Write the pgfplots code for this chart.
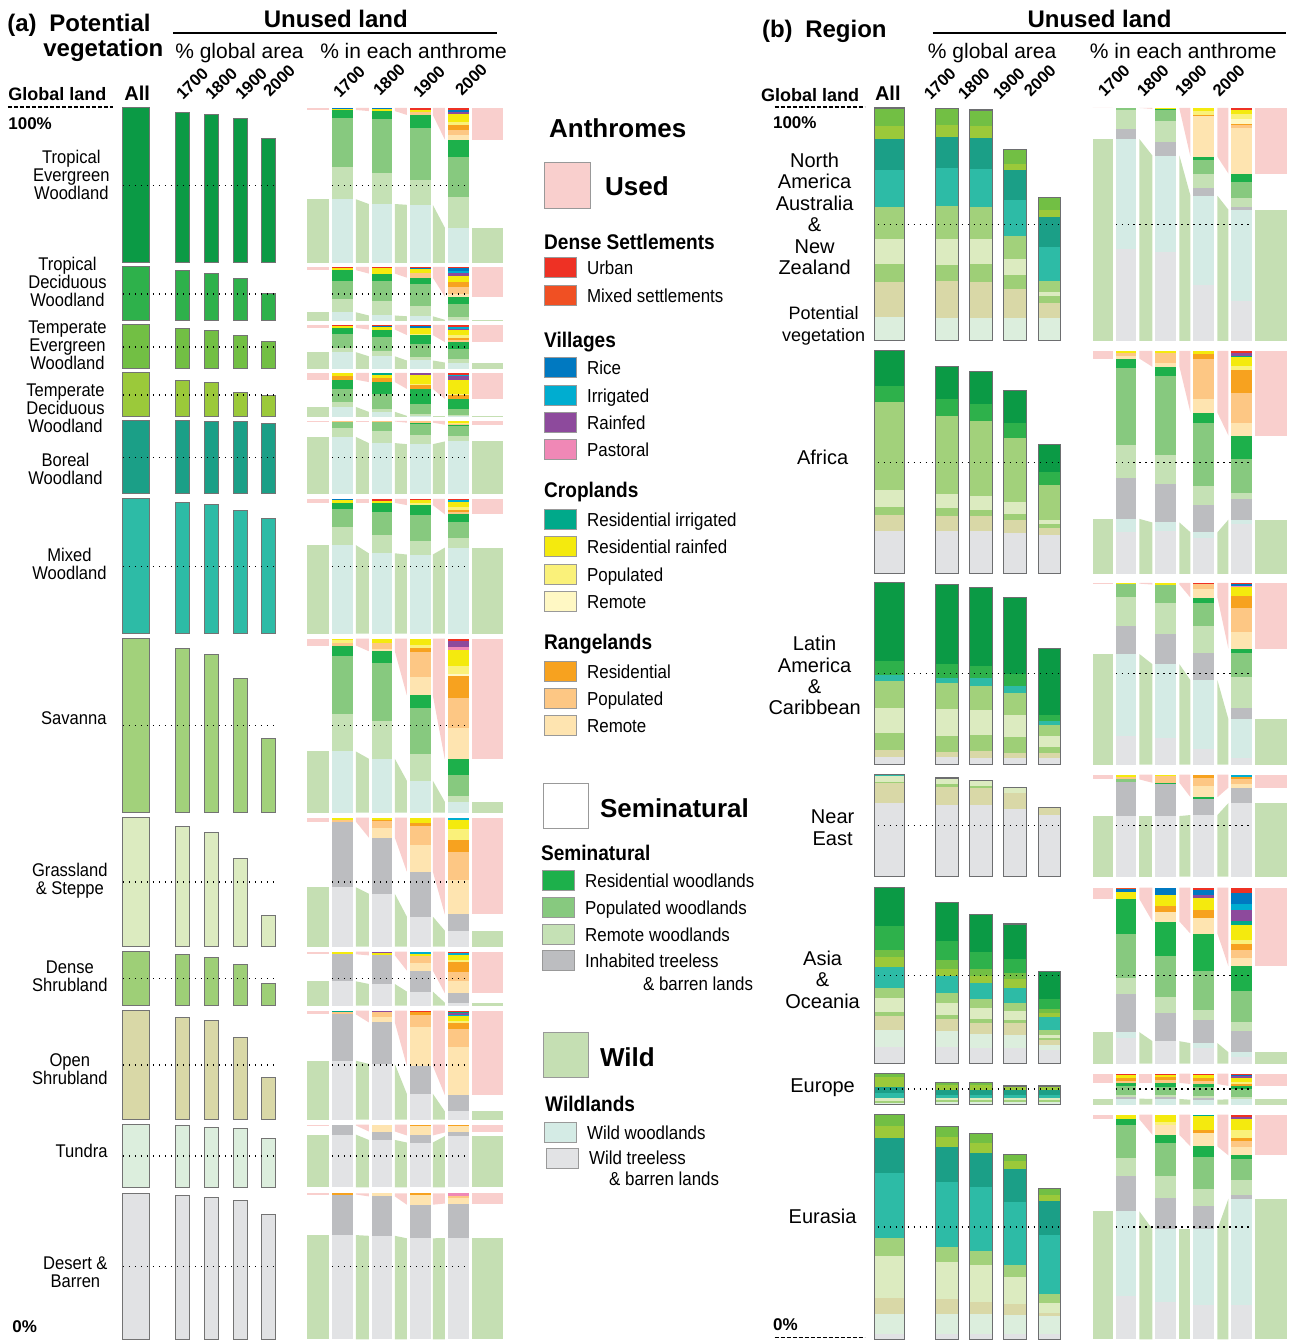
\documentclass[border=0pt]{standalone}
\usepackage{fontspec}
\setmainfont{Liberation Sans}
\newfontfamily\nf[FakeStretch=0.9]{Liberation Sans}
\usepackage{pgfplots}
\pgfplotsset{compat=1.18}
% potential vegetation
\definecolor{cTE}{HTML}{0B9A45}\definecolor{cTD}{HTML}{2EB14B}
\definecolor{cME}{HTML}{72BF44}\definecolor{cMD}{HTML}{9BC93A}
\definecolor{cBo}{HTML}{1B9F87}\definecolor{cMx}{HTML}{2DBBA6}
\definecolor{cSv}{HTML}{A2D17B}\definecolor{cGr}{HTML}{DCEBC0}
\definecolor{cDS}{HTML}{9ECF77}\definecolor{cOS}{HTML}{D9D8A7}
\definecolor{cTu}{HTML}{DCEEDD}\definecolor{cDe}{HTML}{E1E2E4}
% anthromes
\definecolor{cUrban}{HTML}{EE3124}\definecolor{cMixS}{HTML}{F05023}
\definecolor{cRice}{HTML}{0079C1}\definecolor{cIrrV}{HTML}{00ADD0}
\definecolor{cRainV}{HTML}{8D4A9C}\definecolor{cPastV}{HTML}{F088B6}
\definecolor{cResIrr}{HTML}{00A98A}\definecolor{cResRain}{HTML}{F4EA0E}
\definecolor{cPopC}{HTML}{FAF17A}\definecolor{cRemC}{HTML}{FFF8C4}
\definecolor{cResR}{HTML}{F7A21F}\definecolor{cPopR}{HTML}{FDC784}
\definecolor{cRemR}{HTML}{FEE4B0}\definecolor{cResW}{HTML}{1DB04B}
\definecolor{cPopW}{HTML}{87C97F}\definecolor{cRemW}{HTML}{C5E1B5}
\definecolor{cInhab}{HTML}{BCBDC0}\definecolor{cWildW}{HTML}{D4EBE5}
\definecolor{cWildT}{HTML}{E2E3E5}\definecolor{cUsed}{HTML}{F9CFCD}
\definecolor{cWild}{HTML}{C5DFB3}\definecolor{cOut}{HTML}{6D6E70}
% drawing helpers (all through \addplot)
\newcommand\Pgn[9]{\edef\pgtmp{\noexpand\addplot[fill=#1,draw=none,forget plot] coordinates {(#2,#3) (#4,#5) (#6,#7) (#8,#9)} -- cycle;}\pgtmp}
\newcommand\Rct[5]{\Pgn{#5}{#1}{#3}{#2}{#3}{#2}{#4}{#1}{#4}}
\newcommand\frect[5]{\edef\pgtmp{\noexpand\addplot[fill=#5,draw=black!55,line width=0.5pt,forget plot] coordinates {(#1,#3) (#2,#3) (#2,#4) (#1,#4)} -- cycle;}\pgtmp}
\newcommand\orect[4]{\edef\pgtmp{\noexpand\addplot[draw=cOut,fill=none,line width=0.6pt,forget plot] coordinates {(#1,#3) (#2,#3) (#2,#4) (#1,#4)} -- cycle;}\pgtmp}
\newcommand\lrect[5]{\edef\pgtmp{\noexpand\addplot[fill=#5,draw=black!40,line width=0.4pt,forget plot] coordinates {(#1,#3) (#2,#3) (#2,#4) (#1,#4)} -- cycle;}\pgtmp}
\newcommand\dotline[3]{\pgfmathsetmacro\dly{#3}\edef\pgtmp{\noexpand\addplot[forget plot,draw=black,line width=0.7pt,dash pattern=on 0.6pt off 2.4pt] coordinates {(#1,\dly) (#2,\dly)};}\pgtmp}
% stacked bar, top-down, heights in % of row
\newcommand\sbar[5]{\pgfmathsetmacro\sbH{(#4)-(#3)}\xdef\sbY{#3}%
  \foreach \h/\c in {#5}{\pgfmathsetmacro\sbN{\sbY+\h/100*\sbH}\Rct{#1}{#2}{\sbY}{\sbN}{\c}\xdef\sbY{\sbN}}}
% stacked bar, bottom-up, heights in % of row, outlined
\newcommand\ubar[5]{\pgfmathsetmacro\sbH{(#4)-(#3)}\xdef\sbY{#4}%
  \foreach \h/\c in {#5}{\pgfmathsetmacro\sbN{\sbY-\h/100*\sbH}\Rct{#1}{#2}{\sbN}{\sbY}{\c}\xdef\sbY{\sbN}}%
  \orect{#1}{#2}{\sbY}{#4}}
\def\getfour#1,#2,#3,#4\relax{\def\fA{#1}\def\fB{#2}\def\fC{#3}\def\fD{#4}}
% used (top) and wild (bottom) bands and connectors
\newcommand\bands[4]{\pgfmathsetmacro\bdH{(#2)-(#1)}%
  \getfour#3\relax
  \pgfmathsetmacro\bdUa{#1+\fA/100*\bdH}\pgfmathsetmacro\bdUb{#1+\fB/100*\bdH}%
  \pgfmathsetmacro\bdUc{#1+\fC/100*\bdH}\pgfmathsetmacro\bdUd{#1+\fD/100*\bdH}%
  \getfour#4\relax
  \pgfmathsetmacro\bdWa{#2-\fA/100*\bdH}\pgfmathsetmacro\bdWb{#2-\fB/100*\bdH}%
  \pgfmathsetmacro\bdWc{#2-\fC/100*\bdH}\pgfmathsetmacro\bdWd{#2-\fD/100*\bdH}%
  \Rct{\qLl}{\qLr}{#1}{\bdUa}{cUsed}\Rct{\qLl}{\qLr}{\bdWa}{#2}{cWild}%
  \Pgn{cUsed}{\qPl}{#1}{\qPr}{#1}{\qPr}{\bdUb}{\qPl}{\bdUa}%
  \Pgn{cWild}{\qPl}{\bdWa}{\qPr}{\bdWb}{\qPr}{#2}{\qPl}{#2}%
  \Pgn{cUsed}{\qQl}{#1}{\qQr}{#1}{\qQr}{\bdUc}{\qQl}{\bdUb}%
  \Pgn{cWild}{\qQl}{\bdWb}{\qQr}{\bdWc}{\qQr}{#2}{\qQl}{#2}%
  \Pgn{cUsed}{\qSl}{#1}{\qSr}{#1}{\qSr}{\bdUd}{\qSl}{\bdUc}%
  \Pgn{cWild}{\qSl}{\bdWc}{\qSr}{\bdWd}{\qSr}{#2}{\qSl}{#2}%
  \Rct{\qRl}{\qRr}{#1}{\bdUd}{cUsed}\Rct{\qRl}{\qRr}{\bdWd}{#2}{cWild}}
% anthrome bars of one row: ytop ybot L1700 L1800 L1900 L2000 {used%} {wild%}
\newcommand\anth[8]{\bands{#1}{#2}{#7}{#8}%
  \sbar{\qAl}{\qAr}{#1}{#2}{#3}\sbar{\qBl}{\qBr}{#1}{#2}{#4}%
  \sbar{\qCl}{\qCr}{#1}{#2}{#5}\sbar{\qDl}{\qDr}{#1}{#2}{#6}%
  \dotline{\qAl}{\qDr}{(#1+#2)/2}}
% panel (a) biome row: ytop ybot colour, unused % 1700..2000
\newcommand\arow[7]{\frect{123}{150}{#1}{#2}{#3}\pgfmathsetmacro\arH{(#2)-(#1)}%
  \pgfmathsetmacro\arT{#2-#4/100*\arH}\frect{176}{190}{\arT}{#2}{#3}%
  \pgfmathsetmacro\arT{#2-#5/100*\arH}\frect{205}{219}{\arT}{#2}{#3}%
  \pgfmathsetmacro\arT{#2-#6/100*\arH}\frect{234}{248}{\arT}{#2}{#3}%
  \pgfmathsetmacro\arT{#2-#7/100*\arH}\frect{262}{276}{\arT}{#2}{#3}%
  \dotline{123}{276}{(#1+#2)/2}}
% panel (b) region row
\newcommand\brow[7]{\ubar{875}{905}{#1}{#2}{#3}\ubar{936}{959}{#1}{#2}{#4}%
  \ubar{970}{993}{#1}{#2}{#5}\ubar{1004}{1027}{#1}{#2}{#6}\ubar{1039}{1061}{#1}{#2}{#7}%
  \dotline{878}{1062}{(#1+#2)/2}}
\newcommand\litem[4][587]{\pgfmathsetmacro\lya{#2-10}\pgfmathsetmacro\lyb{#2+10}\pgfmathsetmacro\lyc{#2+6.5}%
  \pgfmathsetmacro\lxa{#1-42}\pgfmathsetmacro\lxb{#1-10}%
  \lrect{\lxa}{\lxb}{\lya}{\lyb}{#3}%
  \edef\pgtmp{\noexpand\node[litem] at (axis cs:#1,\lyc) {\unexpanded{#4}};}\pgtmp}
\def\setA{\def\qLl{307}\def\qLr{329}\def\qAl{332}\def\qAr{353}\def\qPl{356}\def\qPr{369}\def\qBl{372}\def\qBr{392}\def\qQl{395}\def\qQr{407}\def\qCl{410}\def\qCr{431}\def\qSl{433}\def\qSr{445}\def\qDl{448}\def\qDr{469}\def\qRl{472}\def\qRr{503}}
\def\setB{\def\qLl{1093}\def\qLr{1113}\def\qAl{1116}\def\qAr{1137}\def\qPl{1140}\def\qPr{1153}\def\qBl{1156}\def\qBr{1177}\def\qQl{1180}\def\qQr{1191}\def\qCl{1194}\def\qCr{1215}\def\qSl{1218}\def\qSr{1229}\def\qDl{1232}\def\qDr{1253}\def\qRl{1256}\def\qRr{1288}}
\tikzset{
  blab/.style={font=\nf\fontsize{9.2}{9}\selectfont, align=center, anchor=east, inner sep=0pt},
  rlab/.style={font=\fontsize{10}{10.7}\selectfont, align=center, inner sep=0pt},
  plab/.style={font=\fontsize{9}{11}\selectfont, align=center, inner sep=0pt},
  hbig/.style={font=\bfseries\fontsize{12}{12}\selectfont, anchor=base west, inner sep=0pt},
  hbigc/.style={font=\bfseries\fontsize{12}{12}\selectfont, anchor=base, inner sep=0pt},
  hsub/.style={font=\fontsize{10.5}{10.5}\selectfont, anchor=base west, inner sep=0pt},
  hsm/.style={font=\bfseries\fontsize{9}{9}\selectfont, anchor=base west, inner sep=0pt},
  hpc/.style={font=\bfseries\fontsize{8.5}{8.5}\selectfont, anchor=base west, inner sep=0pt},
  yr/.style={font=\bfseries\fontsize{8.3}{8.3}\selectfont, rotate=45, anchor=base west, inner sep=0pt},
  lbig/.style={font=\bfseries\fontsize{13}{13}\selectfont, anchor=base west, inner sep=0pt},
  lhead/.style={font=\nf\bfseries\fontsize{10.6}{10.6}\selectfont, anchor=base west, inner sep=0pt},
  litem/.style={font=\nf\fontsize{9.4}{9.4}\selectfont, anchor=base west, inner sep=0pt},
}
\begin{document}
\begin{tikzpicture}
\begin{axis}[scale only axis, width=646.5pt, height=670pt, xmin=0, xmax=1293, ymin=0, ymax=1340,
  y dir=reverse, hide axis, clip=false]
\addplot[draw=none, forget plot] coordinates {(0,0) (1293,1340)};
% ================= PANEL (a) =================
\arow{108}{263}{cTE}{96.8}{95.5}{92.9}{80}
\arow{267}{321}{cTD}{92.6}{87}{77.8}{50}
\arow{325}{369}{cME}{90.9}{86.4}{75}{61.4}
\arow{373}{417}{cMD}{81.8}{77.3}{54.5}{47.7}
\arow{421}{494}{cBo}{100}{98.6}{98.6}{95.9}
\arow{499}{634}{cMx}{97}{95.5}{91}{85.1}
\arow{639}{813}{cSv}{94.3}{90.8}{77}{42.5}
\arow{818}{947}{cGr}{93}{88.4}{68.2}{24}
\arow{952}{1006}{cDS}{94.4}{88.9}{75.9}{40.7}
\arow{1011}{1120}{cOS}{93.6}{90.8}{75.2}{38.5}
\arow{1125}{1188}{cTu}{98.4}{95.2}{93.7}{77.8}
\arow{1194}{1340}{cDe}{98.6}{97.3}{95.2}{85.6}
\setA
\anth{108}{263}
{0.6/cRice, 0.7/cResRain, 5/cResW, 32/cPopW, 20.6/cRemW, 41.1/cWildW}
{0.7/cRice, 1.3/cResRain, 5/cResW, 35/cPopW, 20/cRemW, 38/cWildW}
{1/cUrban, 1.5/cResRain, 2/cPopR, 8.4/cResW, 33.5/cPopW, 16.1/cRemW, 37.5/cWildW}
{1/cUrban, 1.5/cRice, 1.3/cRainV, 5/cResRain, 2/cPopC, 3.2/cResR, 3.6/cPopR, 2.8/cRemR, 11/cResW, 25.8/cPopW, 20/cRemW, 22.8/cWildW}
{1.3,2,4.5,20.4}{41.1,38,37.5,22.8}
\anth{267}{321}
{1.5/cUrban, 4.5/cResRain, 21/cResW, 33/cPopW, 24/cRemW, 16/cWildW}
{2.4/cUrban, 10/cResRain, 13/cResW, 38/cPopW, 26.6/cRemW, 10/cWildW}
{2/cUrban, 1.5/cRice, 8.5/cResRain, 8/cPopR, 12.5/cResW, 40/cPopW, 19/cRemW, 8.5/cWildW}
{2/cUrban, 6/cRice, 3.7/cIrrV, 5.5/cRainV, 10/cResRain, 9.7/cResR, 13.3/cPopR, 4.8/cRemR, 14/cResW, 24/cPopW, 5/cRemW, 2/cWildW}
{6,12.4,20,55}{16,10,8.5,2}
\anth{325}{369}
{2.3/cUrban, 4.7/cResRain, 14/cResW, 32/cPopW, 9/cRemW, 38/cWildW}
{2.3/cUrban, 2.3/cRice, 6/cResRain, 17/cResW, 32/cPopW, 11.9/cRemW, 28.5/cWildW}
{2.3/cUrban, 4.6/cRice, 14/cResRain, 2.3/cPopC, 21/cResW, 27.8/cPopW, 9/cRemW, 19/cWildW}
{4/cUrban, 4.6/cIrrV, 3/cRainV, 10.7/cResRain, 7.7/cPopC, 4.6/cResR, 4.6/cPopR, 15.4/cResW, 24/cPopW, 7/cRemW, 14.4/cWildW}
{7,10.6,23.2,39.2}{38,28.5,19,14.4}
\anth{373}{417}
{8/cResRain, 7.5/cResR, 21/cResW, 30/cPopW, 11/cRemW, 22.5/cWildW}
{4.5/cResIrr, 7.5/cResRain, 9/cResR, 26/cResW, 34.5/cPopW, 7.2/cRemW, 11.3/cWildW}
{4.5/cRainV, 20/cResRain, 4/cPopC, 8/cResR, 34.5/cResW, 22/cPopW, 4.7/cRemW, 2.3/cWildW}
{3.8/cUrban, 3.8/cIrrV, 8/cRainV, 31.5/cResRain, 3.8/cPopC, 8.3/cResR, 22.5/cResW, 13.5/cPopW, 2.5/cRemW, 2.3/cWildW}
{15.5,21,36.5,59.2}{22.5,11.3,2.3,2.3}
\anth{421}{494}
{1/cPopR, 9/cPopW, 12/cRemW, 78/cWildW}
{1/cPopR, 13.5/cPopW, 16/cRemW, 69.5/cWildW}
{2.5/cPopR, 1.5/cResW, 16/cPopW, 12/cRemW, 68/cWildW}
{0.8/cUrban, 2/cResRain, 1.5/cPopC, 1/cPopR, 1.5/cResW, 13.5/cPopW, 8/cRemW, 71.7/cWildW}
{1,1,2.5,5.3}{78,69.5,68,71.7}
\anth{499}{634}
{0.8/cRice, 2.2/cResRain, 4.5/cResW, 13.4/cPopW, 13.4/cRemW, 65.7/cWildW}
{1.5/cUrban, 1.5/cResRain, 7/cResW, 17/cPopW, 13.4/cRemW, 59.6/cWildW}
{1/cUrban, 2.2/cResRain, 1.5/cPopC, 7.5/cResW, 19.4/cPopW, 9.7/cRemW, 58.7/cWildW}
{1/cUrban, 1.3/cIrrV, 4/cResRain, 2.2/cPopC, 1.5/cResR, 1.5/cPopR, 6/cResW, 11.2/cPopW, 7.5/cRemW, 63.8/cWildW}
{3,3,4.7,11.5}{65.7,59.6,58.7,63.8}
\anth{639}{813}
{1/cResRain, 1.2/cPopC, 1.7/cPopR, 6.3/cResW, 33.3/cPopW, 21.3/cRemW, 35.2/cWildW}
{2.7/cResRain, 3.4/cPopR, 1.1/cRemR, 6.9/cResW, 33.3/cPopW, 21.6/cRemW, 31/cWildW}
{3.8/cResRain, 1.7/cPopC, 2.3/cResR, 14.4/cPopR, 10.3/cRemR, 7.5/cResW, 26.3/cPopW, 15.3/cRemW, 18.4/cWildW}
{1.5/cUrban, 3.4/cRainV, 1.3/cPastV, 9.2/cResRain, 4.6/cPopC, 1.7/cRemC, 12.6/cResR, 17.2/cPopR, 17.8/cRemR, 9.2/cResW, 12/cPopW, 3.2/cRemW, 6.3/cWildW}
{3.9,7.2,32.5,69.3}{35.2,31,18.4,6.3}
\anth{818}{947}
{1.5/cResRain, 1.5/cPopR, 51/cInhab, 46/cWildT}
{1.5/cResRain, 0.8/cResR, 5.4/cPopR, 7.8/cRemR, 43.5/cInhab, 41/cWildT}
{3.9/cResRain, 2.3/cResR, 14.7/cPopR, 21/cRemR, 34.8/cInhab, 23.3/cWildT}
{1.5/cIrrV, 7/cResRain, 8.5/cPopC, 10/cResR, 21/cPopR, 27/cRemR, 12.6/cInhab, 12.4/cWildT}
{3,15.5,41.9,75}{46,41,23.3,12.4}
\anth{952}{1006}
{5/cResRain, 50/cInhab, 45/cWildT}
{2/cRainV, 5/cResRain, 53/cInhab, 40/cWildT}
{3.7/cIrrV, 3.7/cResRain, 13/cPopR, 14.8/cRemR, 38.8/cInhab, 26/cWildT}
{2/cUrban, 3.7/cIrrV, 9/cResRain, 5.5/cPopC, 16.7/cResR, 18.5/cPopR, 21.6/cRemR, 17.5/cInhab, 5.5/cWildT}
{5,7,35.2,77}{45,40,26,5.5}
\anth{1011}{1120}
{1/cResIrr, 2.5/cPopR, 42.5/cInhab, 54/cWildT}
{1.5/cRainV, 4.7/cPopR, 4.7/cRemR, 38.1/cInhab, 51/cWildT}
{1.5/cUrban, 2.8/cResR, 10.4/cPopR, 36/cRemR, 25.6/cInhab, 23.7/cWildT}
{1/cUrban, 1.5/cResIrr, 1.5/cRainV, 1.4/cIrrV, 3.8/cResRain, 1.9/cPopC, 5.7/cResR, 17/cPopR, 43.6/cRemR, 15/cInhab, 7.6/cWildT}
{3.5,10.9,50.7,77.4}{54,51,23.7,7.6}
\anth{1125}{1188}
{1.5/cRemC, 14.5/cInhab, 84/cWildT}
{1.5/cResR, 9.6/cRemR, 13.4/cInhab, 75.5/cWildT}
{3/cResR, 14.4/cRemR, 11.2/cInhab, 71.4/cWildT}
{1.5/cResIrr, 1.5/cResR, 9.6/cRemR, 5.9/cInhab, 81.5/cWildT}
{1.5,11.1,17.4,12.6}{84,75.5,71.4,81.5}
\anth{1194}{1340}
{0.7/cResR, 27.8/cInhab, 71.5/cWildT}
{2/cRemR, 27/cInhab, 71/cWildT}
{0.7/cResR, 7/cRemR, 23/cInhab, 69.3/cWildT}
{1.4/cPastV, 2/cPopR, 3.5/cRemR, 23.7/cInhab, 69.4/cWildT}
{0.7,2,7.7,6.9}{71.5,71,69.3,69.4}
% ================= PANEL (b) =================
\brow{108}{341}
{10.2/cTu, 15/cOS, 7.7/cDS, 10.7/cGr, 13.7/cSv, 15.9/cMx, 13.3/cBo, 5.6/cMD, 7.9/cME}
{9.7/cTu, 15.9/cOS, 6.9/cDS, 11.2/cGr, 14.2/cSv, 16.3/cMx, 13.3/cBo, 5.2/cMD, 7.2/cME}
{9.7/cTu, 15.5/cOS, 7.7/cDS, 10.7/cGr, 13.7/cSv, 16.3/cMx, 13.3/cBo, 5.2/cMD, 7/cME}
{9.7/cTu, 12.4/cOS, 6/cDS, 6.9/cGr, 9.9/cSv, 15.5/cMx, 12.9/cBo, 2.6/cMD, 6.3/cME}
{9.7/cTu, 6.4/cOS, 3/cDS, 1.7/cGr, 4.7/cSv, 14.6/cMx, 12.9/cBo, 3/cMD, 5.4/cME}
\brow{351}{574}
{19/cDe, 7.2/cOS, 3.6/cDS, 7.6/cGr, 39.5/cSv, 7.2/cTD, 15.9/cTE}
{19/cDe, 6.7/cOS, 3.6/cDS, 6.7/cGr, 35/cSv, 7.2/cTD, 14.7/cTE}
{19/cDe, 6.7/cOS, 3.1/cDS, 6.3/cGr, 33.6/cSv, 7.6/cTD, 14.3/cTE}
{18.5/cDe, 5.4/cOS, 2.7/cDS, 5.4/cGr, 29.1/cSv, 6.7/cTD, 14.3/cTE}
{17.6/cDe, 3.1/cOS, 1.8/cDS, 1.8/cGr, 15.7/cSv, 5.8/cTD, 12.1/cTE}
\brow{583}{765}
{4/cDe, 3.8/cOS, 9.4/cDS, 14.2/cGr, 14.5/cSv, 3.2/cMx, 7.8/cTD, 43.1/cTE}
{4/cDe, 3.2/cOS, 8.8/cDS, 14.7/cGr, 14.2/cSv, 2.7/cMx, 8/cTD, 43.4/cTE}
{3.8/cDe, 3.5/cOS, 8.8/cDS, 14.2/cGr, 13.1/cSv, 4/cMx, 7/cTD, 42.9/cTE}
{3.5/cDe, 3/cOS, 8.6/cDS, 12.1/cGr, 12.1/cSv, 3.7/cMx, 7/cTD, 41.8/cTE}
{3.5/cDe, 3/cOS, 3/cDS, 6.2/cGr, 5.9/cSv, 2.4/cMx, 3.2/cTD, 36.7/cTE}
\brow{775}{877}
{72/cDe, 19.6/cOS, 1.2/cDS, 6/cGr, 1.2/cMx}
{69.8/cDe, 18.2/cOS, 2.9/cDS, 5.8/cGr}
{69.8/cDe, 16.7/cOS, 1.9/cDS, 6.2/cGr}
{66.5/cDe, 15.8/cOS, 4.8/cGr}
{60.3/cDe, 7.6/cOS}
\brow{888}{1064}
{9.4/cDe, 9.4/cTu, 8/cOS, 2.5/cDS, 7.8/cGr, 6.1/cSv, 11.4/cMx, 5.8/cMD, 4.4/cME, 13.3/cTD, 21.9/cTE}
{9.4/cDe, 8.9/cTu, 7.2/cOS, 1.9/cDS, 7.2/cGr, 5.6/cSv, 9.4/cMx, 4.4/cMD, 4.7/cME, 11.1/cTD, 21.6/cTE}
{9.1/cDe, 7.5/cTu, 6.7/cOS, 1.9/cDS, 6.4/cGr, 5.3/cSv, 8.9/cMx, 3.9/cMD, 3.9/cME, 9.7/cTD, 21.3/cTE}
{9.1/cDe, 6.9/cTu, 7.2/cOS, 1.4/cDS, 5/cGr, 4.7/cSv, 8.9/cMx, 4.7/cMD, 3.6/cME, 7.8/cTD, 20/cTE}
{7.8/cDe, 2.8/cTu, 2.8/cOS, 1.1/cDS, 1.7/cGr, 2.8/cSv, 7.5/cMx, 2.2/cMD, 2.2/cME, 5.8/cTD, 15.5/cTE}
\brow{1074}{1105}
{5.4/cTu, 6.3/cSv, 7.9/cGr, 17.3/cMx, 19/cBo, 31.5/cMD, 12.6/cME}
{8.2/cTu, 6.3/cSv, 6.3/cGr, 11/cMx, 14/cBo, 17/cMD, 8/cME}
{8.2/cTu, 6.3/cSv, 6.3/cGr, 11/cMx, 14/cBo, 17/cMD, 8/cME}
{8.2/cTu, 6.3/cSv, 6.3/cGr, 11/cMx, 14/cBo, 9.4/cMD, 4.7/cME}
{8.2/cTu, 6.3/cSv, 6.3/cGr, 11/cMx, 14/cBo, 9.4/cMD, 4.7/cME}
\brow{1115}{1340}
{2.4/cDe, 8.7/cTu, 7.4/cOS, 18.4/cGr, 8/cSv, 28.9/cMx, 15.6/cBo, 5.4/cMD, 5.2/cME}
{2.4/cDe, 8.7/cTu, 6.7/cOS, 16.5/cGr, 6.7/cSv, 28.9/cMx, 15.6/cBo, 4.3/cMD, 4.8/cME}
{2.4/cDe, 8.7/cTu, 5.6/cOS, 16.3/cGr, 6.1/cSv, 28.6/cMx, 15.4/cBo, 4.1/cMD, 4.5/cME}
{2.4/cDe, 8.5/cTu, 4.8/cOS, 12.1/cGr, 5.4/cSv, 27.7/cMx, 15/cBo, 3.5/cMD, 3/cME}
{2.4/cDe, 7.8/cTu, 1.7/cOS, 4.1/cGr, 4.1/cSv, 26.4/cMx, 15.2/cBo, 2.4/cMD, 3/cME}
\setB
\anth{108}{341}
{0.9/cPopW, 8.2/cRemW, 4.3/cInhab, 47.2/cWildW, 39.4/cWildT}
{0.4/cResRain, 0.4/cResW, 4.7/cPopW, 9/cRemW, 6/cInhab, 41.3/cWildW, 38.2/cWildT}
{1.3/cResRain, 1.7/cPopC, 0.4/cResR, 17.6/cRemR, 1.3/cResW, 6/cPopW, 6/cRemW, 3.4/cInhab, 38.3/cWildW, 24/cWildT}
{0.9/cUrban, 1.7/cResRain, 2.1/cPopC, 2.1/cRemC, 0.4/cResR, 1.3/cPopR, 19.7/cRemR, 3.4/cResW, 6.9/cPopW, 3.9/cRemW, 1.3/cInhab, 39.1/cWildW, 17.2/cWildT}
{0,0.4,21,28.2}{86.6,79.5,62.3,56.3}
\anth{351}{574}
{0.9/cResRain, 1.6/cPopR, 1/cRemR, 4/cResW, 34.6/cPopW, 14.8/cRemW, 18.5/cInhab, 5.8/cWildW, 18.8/cWildT}
{0.9/cResRain, 4.5/cPopR, 1.8/cRemR, 4/cResW, 35.5/cPopW, 13/cRemW, 17.3/cInhab, 4/cWildW, 19/cWildT}
{1.3/cResRain, 2.2/cResR, 18/cPopR, 6.3/cRemR, 4.5/cResW, 28.3/cPopW, 8.5/cRemW, 12.3/cInhab, 2.7/cWildW, 15.9/cWildT}
{0.9/cUrban, 1.3/cRainV, 0.4/cResIrr, 4/cResRain, 1.8/cPopC, 10.3/cResR, 13.5/cPopR, 5.8/cRemR, 10.3/cResW, 15.3/cPopW, 2.7/cRemW, 9.4/cInhab, 2.2/cWildW, 22.1/cWildT}
{3.5,7.2,27.8,38}{24.6,23,18.6,24.3}
\anth{583}{765}
{0.5/cResRain, 7.5/cPopW, 16/cRemW, 15.2/cInhab, 44.8/cWildW, 16/cWildT}
{1/cResRain, 10.4/cPopW, 16.6/cRemW, 16.8/cInhab, 40.8/cWildW, 14.4/cWildT}
{0.8/cUrban, 2.4/cPopR, 5/cRemR, 2.7/cResW, 12.8/cPopW, 14.7/cRemW, 15.2/cInhab, 37.6/cWildW, 8.8/cWildT}
{0.8/cUrban, 0.8/cRice, 0.8/cPastV, 4.8/cResRain, 6.7/cResR, 13.1/cPopR, 9.4/cRemR, 2.1/cResW, 13.1/cPopW, 17.1/cRemW, 6.4/cInhab, 21.4/cWildW, 3.5/cWildT}
{0.5,1,8.2,36.4}{60.8,55.2,46.4,24.9}
\anth{775}{877}
{1.9/cResRain, 2.8/cPopR, 2.4/cPopW, 33.5/cInhab, 59.4/cWildT}
{1.4/cResRain, 6.6/cPopR, 1.4/cResW, 31.2/cInhab, 59.4/cWildT}
{3.3/cResR, 8/cPopR, 10.8/cRemR, 1.4/cResW, 16.1/cInhab, 60.4/cWildT}
{1.9/cIrrV, 2.8/cResR, 4.7/cPopR, 3.3/cRemR, 15.1/cInhab, 72.2/cWildT}
{4.7,8,22.1,12.7}{59.4,59.4,60.4,72.2}
\anth{888}{1064}
{1/cMixS, 1.5/cRice, 4.1/cResRain, 19.6/cResW, 25.4/cPopW, 9.1/cRemW, 21.5/cInhab, 3.3/cWildW, 14.5/cWildT}
{4.4/cRice, 6.1/cResRain, 3.3/cResR, 5.5/cRemR, 19.3/cResW, 23.8/cPopW, 8.6/cRemW, 16.3/cInhab, 12.7/cWildT}
{1.5/cUrban, 2.9/cRice, 1.5/cRainV, 6.8/cResRain, 4.4/cResR, 9.1/cRemR, 21/cResW, 22.1/cPopW, 6.1/cRemW, 13/cInhab, 2.8/cWildW, 8.8/cWildT}
{3/cUrban, 6.1/cRice, 3.6/cIrrV, 6.4/cRainV, 1.9/cResIrr, 8.6/cResRain, 2.2/cPopC, 3.9/cResR, 4.1/cPopR, 5/cRemR, 13.8/cResW, 18/cPopW, 4.7/cRemW, 12.3/cInhab, 2.5/cWildW, 3.9/cWildT}
{6.6,19.3,26.2,44.8}{17.8,12.7,11.6,6.4}
\anth{1074}{1105}
{4/cUrban, 10/cResRain, 9/cResR, 7/cPopR, 10/cResW, 29/cPopW, 6/cRemW, 6/cInhab, 19/cWildW}
{6/cUrban, 6/cResRain, 9/cResR, 9/cPopR, 12/cResW, 28/cPopW, 6/cRemW, 6/cInhab, 18/cWildW}
{4.6/cUrban, 10.8/cResRain, 9.2/cResR, 9.2/cPopR, 9.2/cResW, 30.8/cPopW, 6.2/cRemW, 4.6/cInhab, 15.4/cWildW}
{4.6/cUrban, 4.6/cRice, 4.6/cRainV, 13.8/cResRain, 6.2/cPopC, 6.2/cResR, 9.2/cResW, 27.7/cPopW, 6.2/cRemW, 16.9/cWildW}
{30,30,33.8,40}{19,18,15.4,16.9}
\anth{1115}{1340}
{2.2/cResRain, 2.4/cResW, 14.7/cPopW, 8/cRemW, 15.8/cInhab, 37.4/cWildW, 19.5/cWildT}
{3.5/cResRain, 1.3/cPopC, 4.3/cRemR, 3.5/cResW, 14.7/cPopW, 9.7/cRemW, 14/cInhab, 32.5/cWildW, 16.5/cWildT}
{0.6/cResIrr, 6.3/cResRain, 1.5/cResR, 5.8/cRemR, 4.5/cResW, 14.5/cPopW, 7.6/cRemW, 10.2/cInhab, 33.8/cWildW, 15.2/cWildT}
{1/cUrban, 0.9/cRainV, 5/cResRain, 3.7/cPopC, 1.1/cResR, 2.6/cPopR, 3.9/cRemR, 1.7/cResW, 9.1/cPopW, 6.7/cRemW, 1.7/cInhab, 47.4/cWildW, 15.2/cWildT}
{2.2,9.1,14.2,18.2}{56.9,49,49,62.6}
% ================= lines =================
\addplot[forget plot, black, line width=1pt] coordinates {(173,33) (497,33)};
\addplot[forget plot, black, line width=1pt] coordinates {(933,33) (1287,33)};
\addplot[forget plot, black, line width=0.8pt, dash pattern=on 2pt off 1pt] coordinates {(8,107) (113,107)};
\addplot[forget plot, black, line width=0.8pt, dash pattern=on 2pt off 1pt] coordinates {(775,107) (865,107)};
\addplot[forget plot, black, line width=0.8pt, dash pattern=on 2pt off 1pt] coordinates {(775,1338) (865,1338)};
% ================= texts panel (a) =================
\node[hbig] at (axis cs:7,32) {(a)\hspace{3pt} Potential};
\node[hbig] at (axis cs:43,57) {vegetation};
\node[hbigc] at (axis cs:336,28) {Unused land};
\node[hsub] at (axis cs:175,59) {\% global area};
\node[hsub] at (axis cs:320,59) {\% in each anthrome};
\node[hsm] at (axis cs:8,101) {Global land};
\node[font=\bfseries\fontsize{10}{10}\selectfont, anchor=base west, inner sep=0pt] at (axis cs:124,101) {All};
\node[hpc] at (axis cs:8,130) {100\%};
\node[hpc] at (axis cs:12,1333) {0\%};
\node[yr] at (axis cs:183,101) {1700};
\node[yr] at (axis cs:212,101) {1800};
\node[yr] at (axis cs:242,101) {1900};
\node[yr] at (axis cs:270,98) {2000};
\node[yr] at (axis cs:340,99) {1700};
\node[yr] at (axis cs:380,97) {1800};
\node[yr] at (axis cs:420,99) {1900};
\node[yr] at (axis cs:462,97) {2000};
\node[blab] at (axis cs:110,175) {Tropical\\Evergreen\\Woodland};
\node[blab] at (axis cs:107,282) {Tropical\\Deciduous\\Woodland};
\node[blab] at (axis cs:107,345) {Temperate\\Evergreen\\Woodland};
\node[blab] at (axis cs:105,408) {Temperate\\Deciduous\\Woodland};
\node[blab] at (axis cs:103,469) {Boreal\\Woodland};
\node[blab] at (axis cs:107,564) {Mixed\\Woodland};
\node[blab] at (axis cs:107,718) {Savanna};
\node[blab] at (axis cs:108,881) {Grassland\\\& Steppe};
\node[blab] at (axis cs:108,977) {Dense\\Shrubland};
\node[blab] at (axis cs:108,1070) {Open\\Shrubland};
\node[blab] at (axis cs:108,1151) {Tundra};
\node[blab] at (axis cs:108,1273) {Desert \&\\Barren};
% ================= texts panel (b) =================
\node[hbig] at (axis cs:762,38) {(b)\hspace{3pt} Region};
\node[hbigc] at (axis cs:1100,28) {Unused land};
\node[hsub] at (axis cs:928,59) {\% global area};
\node[hsub] at (axis cs:1090,59) {\% in each anthrome};
\node[hsm] at (axis cs:761,102) {Global land};
\node[font=\bfseries\fontsize{10}{10}\selectfont, anchor=base west, inner sep=0pt] at (axis cs:875,101) {All};
\node[hpc] at (axis cs:773,129) {100\%};
\node[hpc] at (axis cs:773,1331) {0\%};
\node[yr] at (axis cs:931,101) {1700};
\node[yr] at (axis cs:965,101) {1800};
\node[yr] at (axis cs:1000,101) {1900};
\node[yr] at (axis cs:1031,98) {2000};
\node[yr] at (axis cs:1105,98) {1700};
\node[yr] at (axis cs:1144,98) {1800};
\node[yr] at (axis cs:1182,98) {1900};
\node[yr] at (axis cs:1220,98) {2000};
\node[rlab] at (axis cs:815,214) {North\\America\\Australia\\\&\\New\\Zealand};
\node[plab] at (axis cs:824,326) {Potential\\vegetation};
\node[rlab] at (axis cs:823,458) {Africa};
\node[rlab] at (axis cs:815,676) {Latin\\America\\\&\\Caribbean};
\node[rlab] at (axis cs:833,828) {Near\\East};
\node[rlab] at (axis cs:823,980) {Asia\\\&\\Oceania};
\node[rlab] at (axis cs:823,1088) {Europe};
\node[rlab] at (axis cs:823,1217) {Eurasia};
% ================= legend =================
\node[lbig] at (axis cs:549,138) {Anthromes};
\lrect{545}{591}{162}{208}{cUsed}
\node[lbig] at (axis cs:605,196) {Used};
\node[lhead] at (axis cs:544,250) {Dense Settlements};
\litem{268}{cUrban}{Urban}
\litem{296}{cMixS}{Mixed settlements}
\node[lhead] at (axis cs:544,348) {Villages};
\litem{368}{cRice}{Rice}
\litem{396}{cIrrV}{Irrigated}
\litem{423}{cRainV}{Rainfed}
\litem{450}{cPastV}{Pastoral}
\node[lhead] at (axis cs:544,498) {Croplands};
\litem{520}{cResIrr}{Residential irrigated}
\litem{547}{cResRain}{Residential rainfed}
\litem{575}{cPopC}{Populated}
\litem{602}{cRemC}{Remote}
\node[lhead] at (axis cs:544,650) {Rangelands};
\litem{672}{cResR}{Residential}
\litem{699}{cPopR}{Populated}
\litem{726}{cRemR}{Remote}
\lrect{544}{589}{784}{829}{white}
\node[lbig] at (axis cs:600,818) {Seminatural};
\node[lhead] at (axis cs:541,861) {Seminatural};
\litem[585]{881}{cResW}{Residential woodlands}
\litem[585]{908}{cPopW}{Populated woodlands}
\litem[585]{935}{cRemW}{Remote woodlands}
\litem[585]{961}{cInhab}{Inhabited treeless}
\node[litem] at (axis cs:643,991) {\& barren lands};
\lrect{544}{589}{1033}{1078}{cWild}
\node[lbig] at (axis cs:600,1067) {Wild};
\node[lhead] at (axis cs:545,1112) {Wildlands};
\litem{1133}{cWildW}{Wild woodlands}
\litem[589]{1159}{cWildT}{Wild treeless}
\node[litem] at (axis cs:609,1186) {\& barren lands};
\end{axis}
\end{tikzpicture}
\end{document}
